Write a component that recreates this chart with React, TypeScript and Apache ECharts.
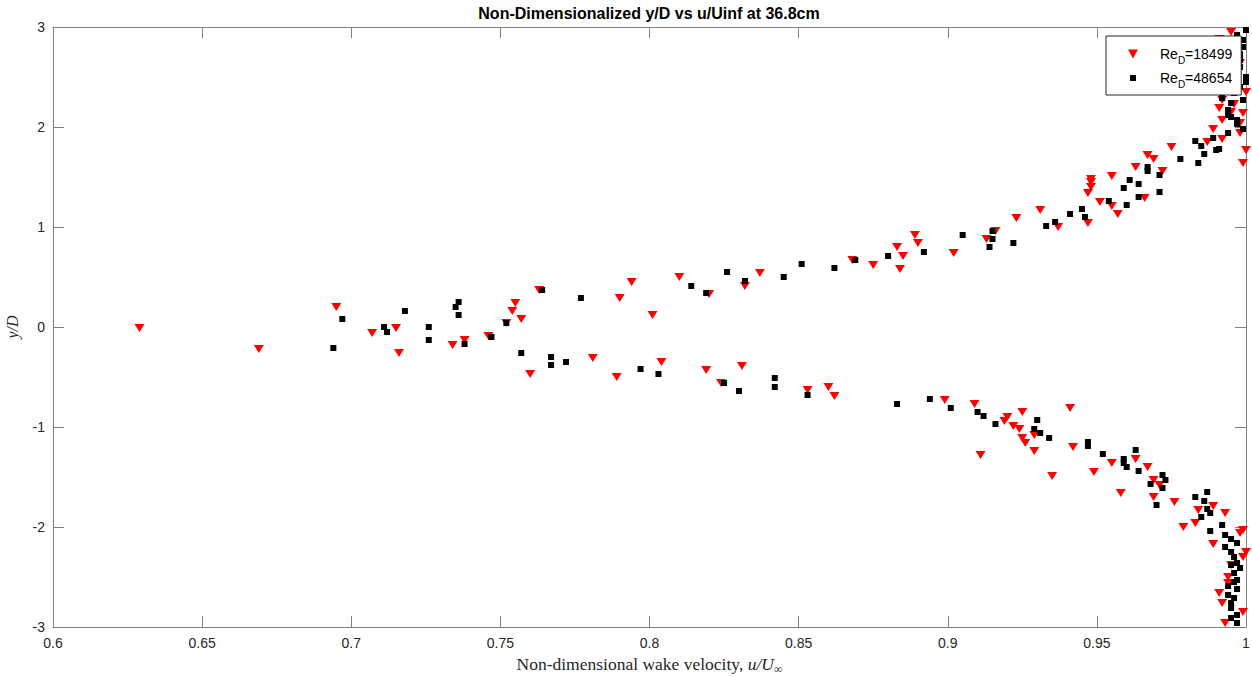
import React, { useEffect, useRef } from "react";
import * as echarts from "echarts";

const xTicksMin = 0.6;
const xTicksMax = 1.0;
const xTickStep = 0.05;
const yTicksMin = -3;
const yTicksMax = 3;
const yTickStep = 1;

const seriesNames = ["ReD=18499", "ReD=48654"];

// Re_D = 18499 (red downward triangles): [u/Uinf, y/D]
const re18499: [number, number][] = [
  [0.629, -0.01], [0.669, -0.22], [0.695, 0.2], [0.707, -0.06], [0.715, -0.01], [0.716, -0.26],
  [0.734, -0.18], [0.738, -0.13], [0.746, -0.09], [0.752, 0.04], [0.755, 0.24], [0.754, 0.16],
  [0.757, 0.08], [0.763, 0.37], [0.76, -0.47], [0.79, 0.29], [0.794, 0.45], [0.801, 0.12],
  [0.81, 0.5], [0.82, 0.33], [0.832, 0.41], [0.837, 0.54], [0.868, 0.67], [0.875, 0.62],
  [0.883, 0.8], [0.884, 0.58], [0.885, 0.71], [0.889, 0.92], [0.89, 0.84], [0.902, 0.74],
  [0.913, 0.88], [0.916, 0.96], [0.923, 1.09], [0.931, 1.17], [0.937, 1.0], [0.947, 1.04],
  [0.947, 1.34], [0.948, 1.4], [0.948, 1.45], [0.948, 1.48], [0.951, 1.25], [0.955, 1.21],
  [0.957, 1.13], [0.955, 1.51], [0.963, 1.6], [0.966, 1.29], [0.967, 1.72], [0.969, 1.68],
  [0.972, 1.56], [0.975, 1.8], [0.987, 1.85], [0.989, 1.98], [0.992, 1.88], [0.991, 2.19],
  [0.996, 2.23], [0.999, 2.14], [0.998, 1.94], [1.0, 1.77], [0.999, 1.64], [0.995, 2.95],
  [0.991, 2.88], [0.997, 2.74], [0.998, 2.64], [0.994, 2.57], [0.997, 2.37], [0.992, 2.27],
  [0.995, 2.15], [0.992, 2.07], [0.998, 2.04], [1.0, 2.35],
  [0.781, -0.31], [0.789, -0.5], [0.804, -0.35], [0.819, -0.43], [0.824, -0.56], [0.831, -0.39],
  [0.853, -0.63], [0.86, -0.6], [0.862, -0.69], [0.899, -0.73], [0.909, -0.77], [0.911, -1.28],
  [0.92, -0.9], [0.919, -0.94], [0.922, -0.99], [0.925, -0.85], [0.924, -1.02], [0.925, -1.11],
  [0.926, -1.16], [0.929, -1.08], [0.929, -1.24], [0.935, -1.49], [0.941, -0.81], [0.942, -1.2],
  [0.949, -1.45], [0.955, -1.36], [0.958, -1.66], [0.963, -1.32], [0.967, -1.4], [0.969, -1.53],
  [0.969, -1.7], [0.971, -1.58], [0.976, -1.75], [0.979, -2.0], [0.983, -1.96], [0.984, -1.83],
  [0.989, -1.79], [0.989, -2.17], [0.993, -1.86], [0.998, -2.06], [0.999, -2.03], [1.0, -2.25],
  [0.999, -2.3], [0.995, -2.38], [0.994, -2.5], [0.994, -2.56], [0.991, -2.66], [0.992, -2.76],
  [0.999, -2.85], [0.993, -2.96],
];

// Re_D = 48654 (black squares): [u/Uinf, y/D]
const re48654: [number, number][] = [
  [0.694, -0.21], [0.697, 0.08], [0.711, 0.0], [0.712, -0.05], [0.718, 0.16], [0.726, 0.0],
  [0.726, -0.13], [0.735, 0.2], [0.736, 0.25], [0.736, 0.12], [0.738, -0.17], [0.747, -0.1],
  [0.752, 0.04], [0.764, 0.37], [0.777, 0.29], [0.814, 0.41], [0.819, 0.34], [0.826, 0.55],
  [0.832, 0.46], [0.845, 0.5], [0.851, 0.63], [0.862, 0.59], [0.869, 0.67], [0.88, 0.71],
  [0.892, 0.75], [0.905, 0.92], [0.915, 0.96], [0.915, 0.88], [0.914, 0.8], [0.922, 0.84],
  [0.933, 1.01], [0.936, 1.05], [0.941, 1.13], [0.945, 1.18], [0.946, 1.1], [0.954, 1.26],
  [0.96, 1.22], [0.959, 1.39], [0.961, 1.47], [0.964, 1.43], [0.964, 1.3], [0.967, 1.6],
  [0.967, 1.56], [0.971, 1.52], [0.971, 1.35], [0.978, 1.68], [0.983, 1.86], [0.984, 1.64],
  [0.985, 1.81], [0.986, 1.73], [0.989, 1.89], [0.99, 1.77], [0.994, 1.94], [0.997, 2.03],
  [0.999, 1.98], [0.994, 2.12], [1.0, 2.97], [0.997, 2.92], [0.999, 2.87], [0.999, 2.8],
  [0.998, 2.73], [0.998, 2.67], [0.996, 2.62], [0.998, 2.6], [0.997, 2.54], [1.0, 2.5],
  [1.0, 2.45], [0.998, 2.4], [0.996, 2.34], [0.992, 2.29], [0.999, 2.27], [0.995, 2.24],
  [0.994, 2.17], [0.995, 2.1], [0.997, 2.07], [0.991, 1.78],
  [0.757, -0.26], [0.767, -0.3], [0.767, -0.38], [0.772, -0.35], [0.797, -0.42], [0.803, -0.47],
  [0.825, -0.56], [0.83, -0.64], [0.842, -0.51], [0.842, -0.6], [0.853, -0.68], [0.883, -0.77],
  [0.894, -0.72], [0.901, -0.81], [0.91, -0.85], [0.912, -0.89], [0.916, -0.97], [0.93, -0.93],
  [0.929, -1.02], [0.931, -1.06], [0.934, -1.11], [0.947, -1.15], [0.947, -1.19], [0.952, -1.27],
  [0.959, -1.32], [0.959, -1.36], [0.96, -1.4], [0.963, -1.23], [0.964, -1.44], [0.968, -1.57],
  [0.972, -1.48], [0.973, -1.53], [0.972, -1.61], [0.97, -1.78], [0.983, -1.7], [0.987, -1.65],
  [0.986, -1.74], [0.987, -1.82], [0.988, -1.86], [0.985, -1.9], [0.988, -2.04], [0.992, -1.98],
  [0.993, -2.08], [0.995, -2.12], [0.997, -2.16], [0.993, -2.2], [0.995, -2.25], [0.996, -2.3],
  [0.997, -2.36], [0.995, -2.38], [0.998, -2.41], [0.996, -2.46], [0.997, -2.53], [0.996, -2.55],
  [0.994, -2.59], [0.997, -2.62], [0.994, -2.68], [0.996, -2.71], [0.995, -2.76], [0.995, -2.81],
  [0.997, -2.88], [0.995, -2.91], [0.997, -2.96],
];

const AXIS_COLOR = "#808080";
const LABEL_COLOR = "#262626";
const SANS = "'Liberation Sans', Arial, Helvetica, sans-serif";
const SERIF = "'Liberation Serif', 'Times New Roman', serif";

const TRI_ICON = "path://M0,0L10,0L5,9Z";
const SQ_ICON = "path://M0,0M10,9M2,1.5L8,1.5L8,7.5L2,7.5Z";

export default function App() {
  const ref = useRef<HTMLDivElement>(null);

  useEffect(() => {
    if (!ref.current) return;
    const chart = echarts.init(ref.current, undefined, { renderer: "svg" });

    const tickCommon = { show: true, inside: true, length: 11, lineStyle: { color: AXIS_COLOR, width: 1 } };
    const lineCommon = { show: true, onZero: false, lineStyle: { color: AXIS_COLOR, width: 1 } };

    const xBase = { type: "value" as const, min: xTicksMin, max: xTicksMax, interval: xTickStep, splitLine: { show: false } };
    const yBase = { type: "value" as const, min: yTicksMin, max: yTicksMax, interval: yTickStep, splitLine: { show: false } };

    chart.setOption({
      animation: false,
      backgroundColor: "#ffffff",
      grid: { left: 53, right: 6, top: 27, bottom: 50, containLabel: false, outerBoundsMode: "none" },
      graphic: [
        {
          type: "text",
          x: 649,
          y: 13,
          style: {
            text: "Non-Dimensionalized y/D vs u/Uinf at 36.8cm",
            font: `bold 16px ${SANS}`,
            fill: "#000000",
            textAlign: "center",
            textVerticalAlign: "middle",
          },
        },
      ],
      legend: {
        orient: "vertical",
        left: 1106,
        top: 36,
        padding: [11, 9, 6, 22],
        itemGap: 6,
        itemWidth: 10,
        itemHeight: 9,
        backgroundColor: "#ffffff",
        borderColor: "#262626",
        borderWidth: 1,
        borderRadius: 0,
        data: [
          { name: seriesNames[0], icon: TRI_ICON },
          { name: seriesNames[1], icon: SQ_ICON },
        ],
        formatter: (name: string) => {
          const num = name.split("=")[1];
          return `{r|Re}{b|D}{a|=${num}}`;
        },
        textStyle: {
          color: "#000000",
          rich: {
            r: { fontSize: 14, fontFamily: SANS, color: "#000000", lineHeight: 22, padding: [0, 0, 0, 17] },
            a: { fontSize: 14, fontFamily: SANS, color: "#000000", lineHeight: 22 },
            b: { fontSize: 10, fontFamily: SANS, color: "#000000", lineHeight: 10, verticalAlign: "bottom" },
          },
        },
      },
      xAxis: [
        {
          ...xBase,
          position: "bottom",
          axisLine: lineCommon,
          axisTick: tickCommon,
          axisLabel: {
            show: true,
            margin: 9,
            color: LABEL_COLOR,
            fontSize: 14,
            fontFamily: SANS,
            showMinLabel: true,
            showMaxLabel: true,
            formatter: (v: number) => String(parseFloat(v.toFixed(2))),
          },
          name: "{n|Non-dimensional wake velocity, }{i|u/U}{s|∞}",
          nameLocation: "middle",
          nameGap: 20,
          nameTextStyle: {
            rich: {
              n: { fontSize: 17.5, fontFamily: SERIF, color: LABEL_COLOR, lineHeight: 22 },
              i: { fontSize: 17.5, fontFamily: SERIF, fontStyle: "italic", color: LABEL_COLOR, lineHeight: 22 },
              s: { fontSize: 12, fontFamily: SERIF, color: LABEL_COLOR, lineHeight: 12, verticalAlign: "bottom" },
            },
          },
        },
        {
          ...xBase,
          position: "top",
          axisLine: lineCommon,
          axisTick: tickCommon,
          axisLabel: { show: false },
        },
      ],
      yAxis: [
        {
          ...yBase,
          position: "left",
          axisLine: lineCommon,
          axisTick: tickCommon,
          axisLabel: {
            show: true,
            margin: 8,
            color: LABEL_COLOR,
            fontSize: 14,
            fontFamily: SANS,
            showMinLabel: true,
            showMaxLabel: true,
          },
          name: "y/D",
          nameLocation: "middle",
          nameGap: 33,
          nameRotate: 90,
          nameTextStyle: { fontSize: 16, fontFamily: SERIF, fontStyle: "italic", color: LABEL_COLOR },
        },
        {
          ...yBase,
          position: "right",
          axisLine: lineCommon,
          axisTick: tickCommon,
          axisLabel: { show: false },
        },
      ],
      series: [
        {
          name: seriesNames[0],
          type: "scatter",
          xAxisIndex: 0,
          yAxisIndex: 0,
          symbol: "triangle",
          symbolRotate: 180,
          symbolSize: [10, 8],
          itemStyle: { color: "#ff0000", opacity: 1 },
          data: re18499,
        },
        {
          name: seriesNames[1],
          type: "scatter",
          xAxisIndex: 0,
          yAxisIndex: 0,
          symbol: "rect",
          symbolSize: 6,
          itemStyle: { color: "#000000", opacity: 1 },
          data: re48654,
        },
      ],
    });

    return () => {
      chart.dispose();
    };
  }, []);

  return (
    <div
      ref={ref}
      style={{ position: "fixed", left: 0, top: 0, width: 1252, height: 677, background: "#ffffff" }}
    />
  );
}
